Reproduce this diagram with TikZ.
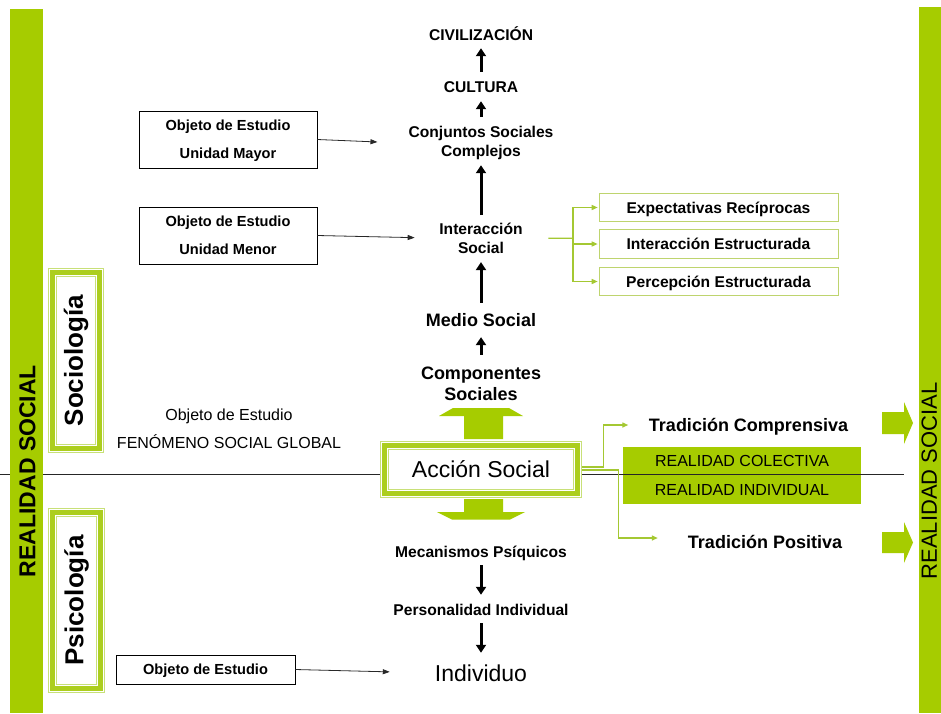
\documentclass[tikz,border=0pt]{standalone}
\usepackage{fontspec}
\setmainfont{Liberation Sans}
\usetikzlibrary{arrows.meta}
\definecolor{barg}{RGB}{166,204,0}
\definecolor{flight}{RGB}{200,224,120}
\definecolor{fband}{RGB}{172,206,30}
\definecolor{glinec}{RGB}{164,200,50}
\definecolor{gboxc}{RGB}{190,212,110}
\definecolor{thinblk}{RGB}{40,40,40}
\newcommand{\mytframe}[1]{%
  \draw[flight, line width=0.9pt] ([shift={(0.5,0.5)}]#1.north west) rectangle ([shift={(-0.5,-0.5)}]#1.south east);
  \draw[fband, line width=4.5pt] ([shift={(4.5,4.5)}]#1.north west) rectangle ([shift={(-4.5,-4.5)}]#1.south east);
  \draw[flight, line width=0.9pt] ([shift={(8.5,8.5)}]#1.north west) rectangle ([shift={(-8.5,-8.5)}]#1.south east);
}
\begin{document}
\begin{tikzpicture}[x=1pt,y=-1pt,
  cl/.style={font=\bfseries\fontsize{15.6}{19}\selectfont, inner sep=0pt, align=center},
  capbx/.style={text height=11.2pt, text depth=0pt},
  big/.style={font=\bfseries\fontsize{18}{21}\selectfont, inner sep=0pt, align=center},
  blk/.style={line width=3pt, -{Triangle[width=10pt,length=8pt]}},
  tarr/.style={thinblk, line width=0.8pt, -{Triangle[width=5pt,length=7pt]}},
  garr/.style={glinec, line width=1.4pt, -{Triangle[width=5pt,length=6pt]}},
  gseg/.style={glinec, line width=1.4pt},
  obox/.style={draw=black, line width=0.8pt, font=\bfseries\fontsize{14.6}{28}\selectfont, align=center, inner sep=0pt, text depth=0pt},
  gbx/.style={draw=gboxc, line width=1pt, minimum width=239pt, minimum height=28.5pt, font=\bfseries\fontsize{15.6}{19}\selectfont, inner sep=0pt, text height=11.2pt, text depth=0pt},
  hline/.style={black!85, line width=0.9pt}
]
\fill[white] (0,0) rectangle (941,713);
\path[use as bounding box] (0,0) rectangle (941,713);

% horizontal divider (left part)
\coordinate (hl) at (0,474.5);
\coordinate (hr) at (904,474.5);

% central column
\node[cl,capbx] (civ) at (481,35) {CIVILIZACIÓN};
\node[cl,capbx] (cult) at (481,87) {CULTURA};
\node[cl,anchor=north] (conj) at (481,126.3) {Conjuntos Sociales\\Complejos};
\node[cl,anchor=north] (inter) at (481,222.7) {Interacción\\Social};
\node[big,text height=12.9pt,text depth=0pt] (medio) at (481,320) {Medio Social};
\node[big,anchor=north] (comp) at (481,366.4) {Componentes\\Sociales};

\draw[blk, shorten <=9.4pt, shorten >=7.4pt] (cult) -- (civ);
\draw[blk, shorten <=9.3pt, shorten >=8.4pt] (conj) -- (cult);
\draw[blk, shorten <=7.7pt, shorten >=5pt] (inter) -- (conj);
\draw[blk, shorten <=10.5pt, shorten >=8.4pt] (medio) -- (inter);
\draw[blk, shorten <=11.6pt, shorten >=10.5pt] (comp) -- (medio);

% Accion Social
\node[minimum width=202pt, minimum height=57pt, inner sep=0pt, font=\fontsize{23}{28}\selectfont, text height=16.5pt, text depth=0pt] (acc) at (481,469.5) {Acción Social};
\mytframe{acc}
\draw[hline] (hl) -- (hl -| acc.west);

% green thick arrows up / down
\fill[barg] (464,439) -- (464,416) -- (439,416) -- (453,408) -- (509,408) -- (523,416) -- (503,416) -- (503,439) -- cycle;
\fill[barg] (464,499) -- (464,512) -- (437,512) -- (452,519.5) -- (510,519.5) -- (525,512) -- (503,512) -- (503,499) -- cycle;

\node[cl,capbx] (mec) at (481,552) {Mecanismos Psíquicos};
\node[cl,capbx] (pers) at (481,610) {Personalidad Individual};
\node[inner sep=0pt, font=\fontsize{23}{28}\selectfont, text height=16.5pt, text depth=0pt] (indiv) at (481,673) {Individuo};
\draw[blk, shorten <=7.4pt, shorten >=9.4pt] (mec) -- (pers);
\draw[blk, shorten <=7.4pt, shorten >=11.8pt] (pers) -- (indiv);

% left object boxes
\node[obox, minimum width=178pt, minimum height=57pt] (b1) at (228,139.5) {Objeto de Estudio\\Unidad Mayor};
\node[obox, minimum width=178pt, minimum height=57pt] (b2) at (228,235.5) {Objeto de Estudio\\Unidad Menor};
\node[obox, minimum width=179pt, minimum height=29pt, text height=10.5pt] (b3) at (205.5,669.5) {Objeto de Estudio};
\draw[tarr, shorten >=31pt] (b1.east) -- (conj.west);
\draw[tarr, shorten >=24.5pt] (b2.east) -- (inter.west);
\draw[tarr, shorten >=45pt] (b3.east) -- (indiv.west);

\node[inner sep=0pt, align=center, font=\fontsize{16}{28}\selectfont] (fen) at (229,429) {Objeto de Estudio\\FENÓMENO SOCIAL GLOBAL};

% Expectativas boxes
\node[gbx] (exp1) at (718.5,207.5) {Expectativas Recíprocas};
\node[gbx] (exp2) at (718.5,244) {Interacción Estructurada};
\node[gbx] (exp3) at (718.5,281.5) {Percepción Estructurada};
\coordinate (bus) at (573,238.2);
\draw[gseg, shorten <=25.5pt] (inter.east) -- (bus);
\draw[garr, shorten >=0.8pt] (bus) |- (exp1.west);
\draw[garr, shorten >=0.8pt] (bus) |- (exp2.west);
\draw[garr, shorten >=0.8pt] (bus) |- (exp3.west);

% right side
\node[minimum width=238pt, minimum height=57pt, fill=barg, inner sep=0pt, align=center, font=\fontsize{16}{29}\selectfont] (real) at (742,475.5) {REALIDAD COLECTIVA\\REALIDAD INDIVIDUAL};
\draw[hline] (hr -| acc.east) -- (hr);
\node[big,text height=12.9pt,text depth=0pt] (tcomp) at (748.5,425) {Tradición Comprensiva};
\node[big,text height=12.9pt,text depth=0pt] (tpos) at (765,542) {Tradición Positiva};
\draw[garr] ([yshift=2.5pt]acc.east) -- ++(21,0) |- ([xshift=-20.5pt]tcomp.west);
\draw[garr] ([yshift=-0.5pt]acc.east) -- ++(36,0) |- ([xshift=-30pt,yshift=4pt]tpos.west);

\fill[barg] (882,412) -- (904,412) -- (904,402) -- (913,423) -- (904,444) -- (904,434) -- (882,434) -- cycle;
\fill[barg] (882,532) -- (904,532) -- (904,522) -- (913,542.5) -- (904,563) -- (904,553) -- (882,553) -- cycle;

% side bars
\fill[barg] (10,9) rectangle (43,713);
\fill[barg] (919,7) rectangle (945,713);
\node[rotate=90, inner sep=0pt, font=\bfseries\fontsize{23}{28}\selectfont, text height=16.5pt, text depth=0pt] (rsl) at (27,471) {REALIDAD SOCIAL};
\node[rotate=90, inner sep=0pt, font=\fontsize{22}{26}\selectfont, text height=15.8pt, text depth=0pt] (rsr) at (929,481) {REALIDAD SOCIAL};

% Sociologia / Psicologia frames
\node[minimum width=56pt, minimum height=185pt, inner sep=0pt, font=\bfseries\fontsize{26}{30}\selectfont] (soc) at (76,360.5) {\rotatebox{90}{Sociología}};
\mytframe{soc}
\node[minimum width=57pt, minimum height=185pt, inner sep=0pt, font=\bfseries\fontsize{26}{30}\selectfont] (psi) at (76.5,600.5) {\rotatebox{90}{Psicología}};
\mytframe{psi}
\end{tikzpicture}
\end{document}
